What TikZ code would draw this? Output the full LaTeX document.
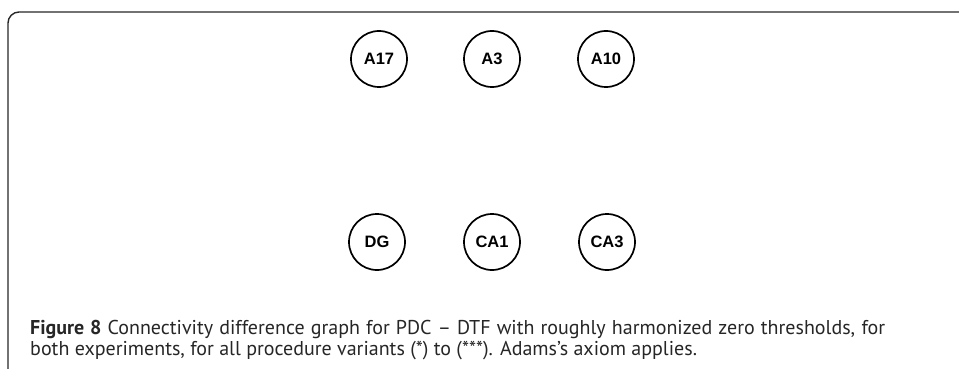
\documentclass[tikz,border=0pt]{standalone}
\usepackage{fontspec}
\setmainfont{PT Sans}
\newfontfamily\nodefont{Liberation Sans}
\begin{document}
\begin{tikzpicture}[x=1pt,y=-1pt,
  region/.style={circle, draw=black, line width=1.7pt, minimum size=56pt, inner sep=0pt,
    font=\nodefont\bfseries\fontsize{16.5}{17}\selectfont},
  caption/.style={anchor=base west, inner sep=0pt, font=\fontsize{20}{22}\selectfont, text=black!85}]
\useasboundingbox (0,0) rectangle (959,369);
% panel frame: only the top and left edges fall inside the picture
\begin{scope}
\clip (0,0) rectangle (959,369);
\draw[line width=1.4pt, black!85, rounded corners=11pt] (8,380) -- (8,12) -- (980,12);
\end{scope}
% brain regions
\node[region] (A17) at (379,59) {A17};
\node[region] (A3)  at (492,59) {A3};
\node[region] (A10) at (606,59) {A10};
\node[region] (DG)  at (377,242) {DG};
\node[region] (CA1) at (492,242) {CA1};
\node[region] (CA3) at (607,242) {CA3};
% caption, set justified: the first line fills the measure, the last one does not
\node[caption] (cap1) at (30,334) {\makebox[855pt][s]{\textbf{Figure 8} Connectivity difference graph for PDC -- DTF with roughly harmonized zero thresholds, for}};
\node[caption] (cap2) at (30,355) {both experiments, for all procedure variants (*) to (***). Adams's axiom applies.};
\end{tikzpicture}
\end{document}
